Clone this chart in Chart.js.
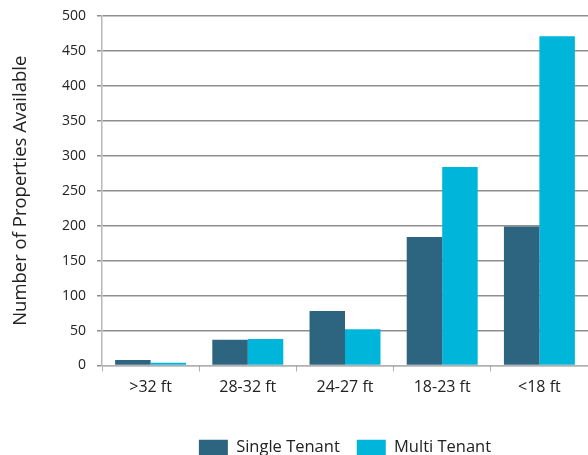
<!DOCTYPE html>
<html>
<head>
<meta charset="utf-8">
<script src="https://cdn.jsdelivr.net/npm/chart.js@4.4.0/dist/chart.umd.min.js"></script>
<style>
  html, body { margin: 0; padding: 0; background: #ffffff; }
  #wrap { width: 588px; height: 455px; position: relative; }
</style>
</head>
<body>
<div id="wrap"><canvas id="c" width="588" height="455"></canvas></div>
<script>
const categories = [">32 ft", "28-32 ft", "24-27 ft", "18-23 ft", "<18 ft"];
const singleTenant = [8, 37, 78, 184, 199];
const multiTenant = [4, 38, 52, 284, 471];
const yTicks = { min: 0, max: 500, step: 50 };
const yTitle = "Number of Properties Available";

const FONT = "'Open Sans', 'Noto Sans', sans-serif";

new Chart(document.getElementById('c'), {
  type: 'bar',
  data: {
    labels: categories,
    datasets: [
      { label: 'Single Tenant', data: singleTenant, backgroundColor: '#2d6480', borderWidth: 0 },
      { label: 'Multi Tenant', data: multiTenant, backgroundColor: '#00b5da', borderWidth: 0 }
    ]
  },
  options: {
    responsive: false,
    animation: false,
    devicePixelRatio: 1,
    layout: { padding: { top: 16, right: 0, left: 0, bottom: -11 } },
    datasets: { bar: { categoryPercentage: 0.73, barPercentage: 1.0 } },
    plugins: {
      legend: {
        position: 'bottom',
        fullSize: false,
        labels: {
          boxWidth: 29,
          boxHeight: 16,
          padding: 17,
          color: '#222222',
          font: { family: FONT, size: 16.5 }
        }
      },
      tooltip: { enabled: false }
    },
    scales: {
      x: {
        grid: { display: true, drawOnChartArea: false, drawTicks: true, tickLength: 6, color: '#b0b0b0', offset: true },
        border: { display: true, color: '#b0b0b0', width: 1 },
        ticks: { color: '#222222', font: { family: FONT, size: 16 }, padding: 6 },
        afterFit: (s) => { s.height = 57; s.paddingLeft = 0; s.paddingRight = 0; }
      },
      y: {
        min: yTicks.min,
        max: yTicks.max,
        ticks: { stepSize: yTicks.step, color: '#222222', font: { family: FONT, size: 14 }, padding: 11 },
        grid: { color: '#8e8e8e', lineWidth: 1.5, tickLength: 5, drawTicks: true },
        border: { display: true, color: '#b8b8b8', width: 1.5 },
        title: { display: true, text: yTitle, color: '#222222', font: { family: FONT, size: 18.5 }, padding: { top: 10, bottom: 28 } },
        afterFit: (s) => { s.width = 102; s.paddingTop = 0; s.paddingBottom = 0; }
      }
    }
  }
});
</script>
</body>
</html>
